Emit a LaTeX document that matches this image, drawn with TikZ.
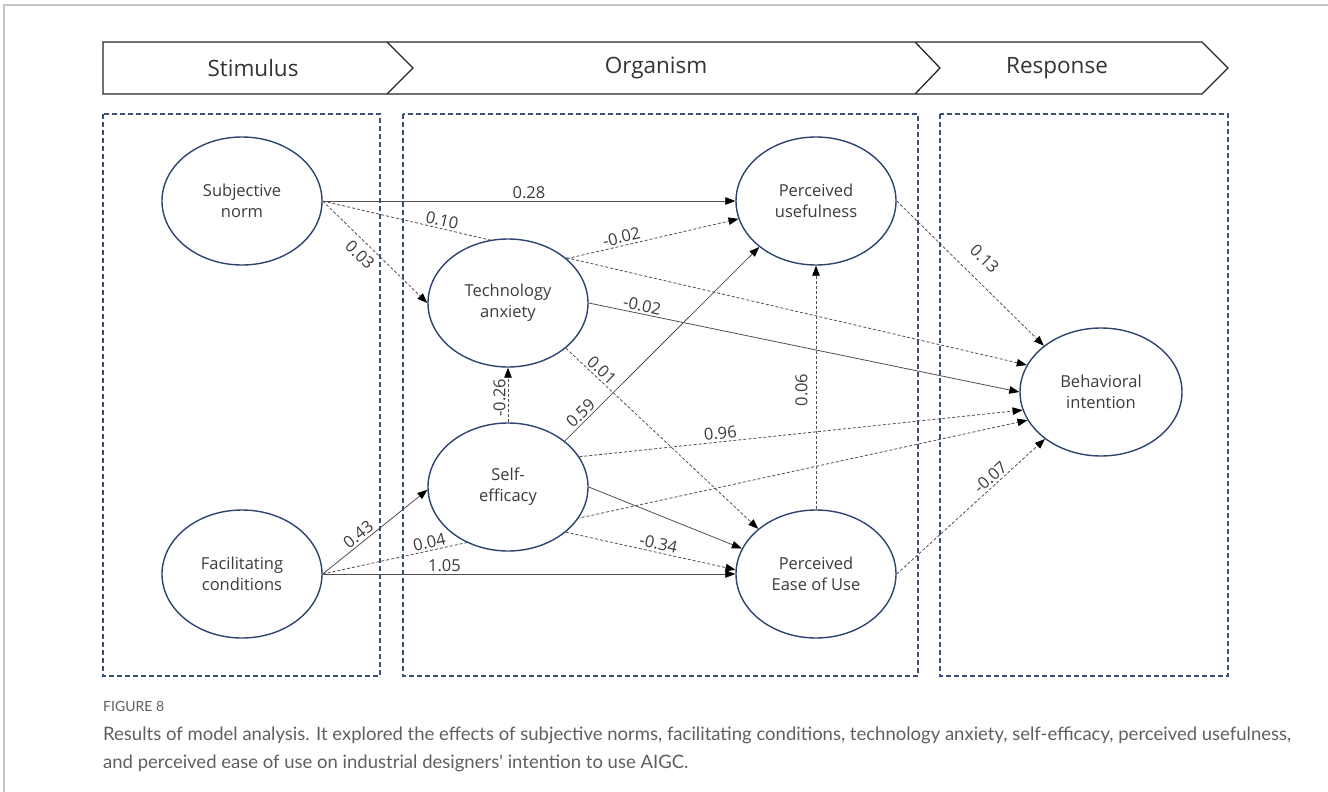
\documentclass[tikz,border=0pt]{standalone}
\usepackage{fontspec}
\setmainfont{Open Sans}
\newfontfamily\capfont{Lato}
\usetikzlibrary{arrows.meta,shapes.geometric}

\definecolor{navy}{HTML}{2E4470}
\definecolor{zoneblue}{HTML}{3A4F7E}
\definecolor{edgegray}{HTML}{505050}
\definecolor{txt}{HTML}{3C3C3C}
\definecolor{capgray}{HTML}{5F5F5F}
\definecolor{framegray}{HTML}{C4C4C4}

\pgfdeclarelayer{bg}
\pgfsetlayers{bg,main}

\begin{document}
\begin{tikzpicture}[x=1pt,y=-1pt,
  construct/.style={ellipse, draw=navy, line width=1.4pt, fill=white,
    minimum width=160pt, minimum height=128pt, inner sep=0pt, align=center,
    font=\fontsize{16.5}{21}\selectfont, text=txt},
  path solid/.style={draw=edgegray, line width=0.8pt,
    -{Triangle[length=10pt,width=7.5pt,color=black]}},
  path dashed/.style={path solid, dash pattern=on 3pt off 2pt},
  coef/.style={font=\fontsize{16.5}{16.5}\selectfont, text=txt, sloped, inner sep=2pt},
  banner/.style={draw=black!85, line width=1.3pt, line join=miter},
  stage/.style={font=\fontsize{22.5}{22.5}\selectfont, text=black!80},
  zone/.style={draw=zoneblue, line width=1.2pt, dash pattern=on 5pt off 3pt},
]
\useasboundingbox (0,0) rectangle (1328,792);

% page frame
\draw[framegray, line width=1.5pt] (4,792) -- (4,5) -- (1328,5);

% stage banner
\draw[banner] (103,42) -- (1202,42) -- (1228,68) -- (1202,94) -- (103,94) -- cycle;
\draw[banner] (387,42) -- (413,68) -- (387,94);
\draw[banner] (915,42) -- (940,68) -- (915,94);
\node[stage] (stim) at (253,68) {Stimulus};
\node[stage] (org) at (656,68) {Organism};
\node[stage] (resp) at (1057,68) {Response};

% stage zones
\draw[zone] (103,114) rectangle (380,676);
\draw[zone] (403,114) rectangle (918,676);
\draw[zone] (940,114) rectangle (1228,676);

% constructs
\node[construct] (sn) at (242,201) {Subjective\\norm};
\node[construct] (fc) at (242,574) {Facilitating\\conditions};
\node[construct] (ta) at (508,303) {Technology\\anxiety};
\node[construct] (se) at (508,487) {Self-\\efficacy};
\node[construct] (pu) at (816,201) {Perceived\\usefulness};
\node[construct] (peou) at (816,574) {Perceived\\Ease of Use};
\node[construct, minimum width=162pt] (bi) at (1101,392) {Behavioral\\intention};

% paths with coefficients
\begin{pgfonlayer}{bg}
\draw[path solid] (sn.east) -- node[coef, above, pos=0.5] {0.28} (pu.west);
\draw[path dashed] (sn.east) -- node[coef, above, pos=0.167] {0.10} (bi.160);
\draw[path dashed] (sn.east) -- node[coef, below=4pt, pos=0.44] {0.03} (ta.west);
\draw[path dashed] (ta.37) -- node[coef, above, pos=0.33] {-0.02} (pu.193);
\draw[path solid] (ta.east) -- node[coef, above, pos=0.12] {-0.02} (bi.west);
\draw[path dashed] (ta.-38) -- node[coef, above, pos=0.157] {0.01} (peou.142);
\draw[path dashed] (se.north) -- node[coef, above, pos=0.45] {-0.26} (ta.south);
\draw[path solid] (se.39) -- node[coef, above, pos=0.112] {0.59} (pu.219);
\draw[path dashed] (se.23) -- node[coef, above, pos=0.32] {0.96} (bi.193);
\draw[path solid] (se.east) -- (peou.161);
\draw[path dashed] (se.-38) -- node[coef, above, pos=0.535] {-0.34} (peou.177);
\draw[path solid] (fc.east) -- node[coef, above, pos=0.39] {0.43} (se.182);
\draw[path dashed] (fc.east) -- node[coef, above, pos=0.154] {0.04} (bi.201);
\draw[path solid] (fc.east) -- node[coef, above, pos=0.295] {1.05} (peou.west);
\draw[path dashed] (peou.north) -- node[coef, above=6pt, pos=0.49] {0.06} (pu.south);
\draw[path dashed] (pu.east) -- node[coef, above=12pt, pos=0.5] {0.13} (bi.141);
\draw[path dashed] (peou.east) -- node[coef, above, pos=0.67] {-0.07} (bi.220);
\end{pgfonlayer}

% caption
\node[anchor=base west, inner sep=0pt, text=capgray, font=\capfont\fontsize{14}{14}\selectfont]
  (figno) at (103,711) {FIGURE 8};
\node[anchor=base west, inner sep=0pt, text=capgray, align=left,
  font=\capfont\fontsize{18.5}{28}\selectfont] (cap) at (103,768)
  {Results of model analysis. It explored the effects of subjective norms, facilitating conditions, technology anxiety, self-efficacy, perceived usefulness,\\
   and perceived ease of use on industrial designers' intention to use AIGC.};
\end{tikzpicture}
\end{document}
